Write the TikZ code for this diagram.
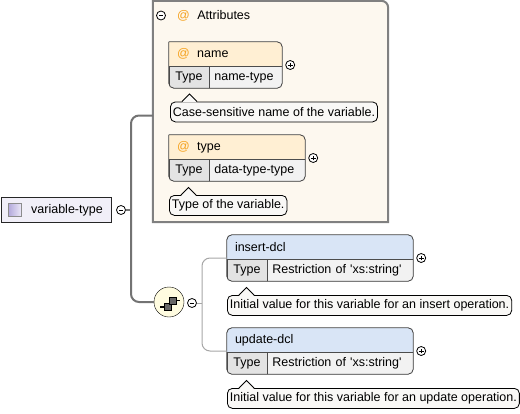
\documentclass[tikz,border=0pt]{standalone}
\usepackage{fontspec}
\setmainfont{Liberation Sans}
\usetikzlibrary{positioning, calc}

\definecolor{rootfill}{HTML}{F1EFF8}
\definecolor{iconlo}{HTML}{B4AADC}
\definecolor{iconhi}{HTML}{ECE9F8}
\definecolor{attrfill}{HTML}{FDF8EF}
\definecolor{attrhead}{HTML}{FFEFD3}
\definecolor{elemhead}{HTML}{D9E5F6}
\definecolor{typegray}{HTML}{E3E3E3}
\definecolor{valgray}{HTML}{F2F2F2}
\definecolor{notefill}{HTML}{F9F8F6}
\definecolor{seqfill}{HTML}{FFFCE0}
\definecolor{atorange}{HTML}{F5A21F}

\begin{document}
\begin{tikzpicture}[x=1pt, y=-1pt, font=\fontsize{12.5}{14}\selectfont,
        rootbox/.style={rectangle, draw=black!85, fill=rootfill, minimum height=25, inner xsep=8, inner ysep=0, anchor=west},
        icon/.style={rectangle, draw=black!45, left color=iconlo, right color=iconhi, minimum size=13, inner sep=0},
        sign/.style={circle, draw=black, fill=white, minimum size=9, inner sep=0, line width=0.8},
        minus/.style={sign, path picture={\draw[line width=0.8] ([xshift=-2.3]path picture bounding box.center) -- ([xshift=2.3]path picture bounding box.center);}},
        plus/.style={sign, path picture={\draw[line width=0.8] ([xshift=-2.3]path picture bounding box.center) -- ([xshift=2.3]path picture bounding box.center) ([yshift=-2.3]path picture bounding box.center) -- ([yshift=2.3]path picture bounding box.center);}},
        frame/.style={rectangle, minimum height=46, inner sep=0},
        head/.style={rectangle, minimum height=24, inner xsep=8, inner ysep=0, anchor=north west, align=left},
        typecell/.style={rectangle, draw=black!70, fill=typegray, minimum width=40, minimum height=22, inner sep=0, anchor=north west},
        valcell/.style={rectangle, draw=black!70, fill=valgray, minimum height=22, inner xsep=5, inner ysep=0, anchor=north west, align=left},
        outline/.style={draw=black!75, line width=0.8, rounded corners=5},
        note/.style={rectangle, draw=black, line width=0.8, fill=notefill, rounded corners=5, minimum height=20, inner xsep=2.5, inner ysep=0, anchor=north west},
        tip/.style={draw=black, line width=0.8},
        seqnode/.style={circle, draw=black, fill=seqfill, minimum size=30, inner sep=0},
        trunk/.style={draw=black!55, line width=2, rounded corners=8},
        branch/.style={draw=black!35, line width=1, rounded corners=8}
    ]
    \useasboundingbox (0,0) rectangle (520,413);

    % attributes group
    \node[rectangle, minimum width=235, minimum height=221, inner sep=0] (attrs) at (270.5,111.5) {};
    \filldraw[fill=attrfill, draw=black!50, line width=2] (attrs.south west) -- (attrs.north west) -- ([xshift=-7]attrs.north east)
        .. controls ([xshift=-3]attrs.north east) and ([yshift=-3]attrs.north east) .. ([yshift=-7]attrs.north east) -- (attrs.south east) -- cycle;
    \node[minus] (attrmin) at (161,15.5) {};
    \node[anchor=west, inner sep=0] (attrtitle) at (177,15.5) {\textcolor{atorange}{@}\hspace{7.5pt}Attributes};
    \shade[left color=attrfill, middle color=black!45, right color=attrfill] (156,29.5) rectangle (345,31);

    % name
    \node[frame, minimum width=113] (namebox) at (225.5,65) {};
    \begin{scope}
        \clip[rounded corners=5] (namebox.north west) -- (namebox.north east) -- (namebox.south east) -- (namebox.south west) -- (namebox.north west);
        \node[head, fill=attrhead, text width=97] (namehead) at (namebox.north west) {\textcolor{atorange}{@}\hspace{7.5pt}name};
        \node[typecell] (nametype) at (namehead.south west) {Type};
        \node[valcell, text width=63] (nameval) at (nametype.north east) {name-type};
    \end{scope}
    \draw[outline] (namebox.north west) -- (namebox.north east) -- (namebox.south east) -- (namebox.south west) -- (namebox.north west);
    \node[plus] (nameplus) at ([xshift=8]namebox.east) {};
    \node[note] (namenote) at (170,101.5) {Case-sensitive name of the variable.};
    \fill[notefill] ([xshift=12,yshift=-0.8]namenote.north west) -- ([xshift=19.5,yshift=7.5]namenote.north west) -- ([xshift=27,yshift=-0.8]namenote.north west) -- cycle;
    \draw[tip] ([xshift=12]namenote.north west) -- ([xshift=19.5,yshift=7.5]namenote.north west) -- ([xshift=27]namenote.north west);

    % type
    \node[frame, minimum width=136] (typebox) at (237,158) {};
    \begin{scope}
        \clip[rounded corners=5] (typebox.north west) -- (typebox.north east) -- (typebox.south east) -- (typebox.south west) -- (typebox.north west);
        \node[head, fill=attrhead, text width=120] (typehead) at (typebox.north west) {\textcolor{atorange}{@}\hspace{7.5pt}type};
        \node[typecell] (typetype) at (typehead.south west) {Type};
        \node[valcell, text width=86] (typeval) at (typetype.north east) {data-type-type};
    \end{scope}
    \draw[outline] (typebox.north west) -- (typebox.north east) -- (typebox.south east) -- (typebox.south west) -- (typebox.north west);
    \node[plus] (typeplus) at ([xshift=8]typebox.east) {};
    \node[note] (typenote) at (169,195) {Type of the variable.};
    \fill[notefill] ([xshift=12,yshift=-0.8]typenote.north west) -- ([xshift=19.5,yshift=7.5]typenote.north west) -- ([xshift=27,yshift=-0.8]typenote.north west) -- cycle;
    \draw[tip] ([xshift=12]typenote.north west) -- ([xshift=19.5,yshift=7.5]typenote.north west) -- ([xshift=27]typenote.north west);

    % root
    \node[rootbox] (root) at (1,210) {\hspace{22pt}variable-type};
    \node[icon] (rooticon) at (15,210) {};
    \node[minus] (rootmin) at (121,210) {};
    \coordinate (fork) at (131,210);

    % sequence
    \node[seqnode] (seq) at (169,302) {};
    \begin{scope}[shift={(seq.center)}]
        \draw[line width=1.2] (-9,5) -- (-4,5);
        \filldraw[fill=black!60, draw=black, line width=0.7] (-4.5,1.5) rectangle (2,8);
        \filldraw[fill=black!60, draw=black, line width=0.7] (0.5,-4.5) rectangle (7,2);
        \draw[line width=1.2] (7,-1.5) -- (11,-1.5);
    \end{scope}
    \node[minus] (seqmin) at (192,303) {};
    \coordinate (bfork) at (202,303);

    % insert-dcl
    \node[frame, minimum width=186] (insbox) at (320,258) {};
    \begin{scope}
        \clip[rounded corners=5] (insbox.north west) rectangle (insbox.south east);
        \node[head, fill=elemhead, text width=170] (inshead) at (insbox.north west) {insert-dcl};
        \node[typecell] (instype) at (inshead.south west) {Type};
        \node[valcell, text width=136] (insval) at (instype.north east) {Restriction of \textquotesingle xs:string\textquotesingle};
    \end{scope}
    \draw[outline] (insbox.north west) rectangle (insbox.south east);
    \node[plus] (insplus) at ([xshift=8]insbox.east) {};
    \node[note] (insnote) at (227,295) {Initial value for this variable for an insert operation.};
    \fill[notefill] ([xshift=12,yshift=-0.8]insnote.north west) -- ([xshift=19.5,yshift=7.5]insnote.north west) -- ([xshift=27,yshift=-0.8]insnote.north west) -- cycle;
    \draw[tip] ([xshift=12]insnote.north west) -- ([xshift=19.5,yshift=7.5]insnote.north west) -- ([xshift=27]insnote.north west);

    % update-dcl
    \node[frame, minimum width=186] (updbox) at (320,351) {};
    \begin{scope}
        \clip[rounded corners=5] (updbox.north west) rectangle (updbox.south east);
        \node[head, fill=elemhead, text width=170] (updhead) at (updbox.north west) {update-dcl};
        \node[typecell] (updtype) at (updhead.south west) {Type};
        \node[valcell, text width=136] (updval) at (updtype.north east) {Restriction of \textquotesingle xs:string\textquotesingle};
    \end{scope}
    \draw[outline] (updbox.north west) rectangle (updbox.south east);
    \node[plus] (updplus) at ([xshift=8]updbox.east) {};
    \node[note] (updnote) at (227,388) {Initial value for this variable for an update operation.};
    \fill[notefill] ([xshift=12,yshift=-0.8]updnote.north west) -- ([xshift=19.5,yshift=7.5]updnote.north west) -- ([xshift=27,yshift=-0.8]updnote.north west) -- cycle;
    \draw[tip] ([xshift=12]updnote.north west) -- ([xshift=19.5,yshift=7.5]updnote.north west) -- ([xshift=27]updnote.north west);

    \draw[trunk] (rootmin.east) -- (fork);
    \draw[trunk] ([yshift=-4]attrs.west) -| (fork) |- (seq.west);
    \draw[branch] (seqmin.east) -- (bfork);
    \draw[branch] (insbox.west) -| (bfork) |- (updbox.west);

\end{tikzpicture}
\end{document}
